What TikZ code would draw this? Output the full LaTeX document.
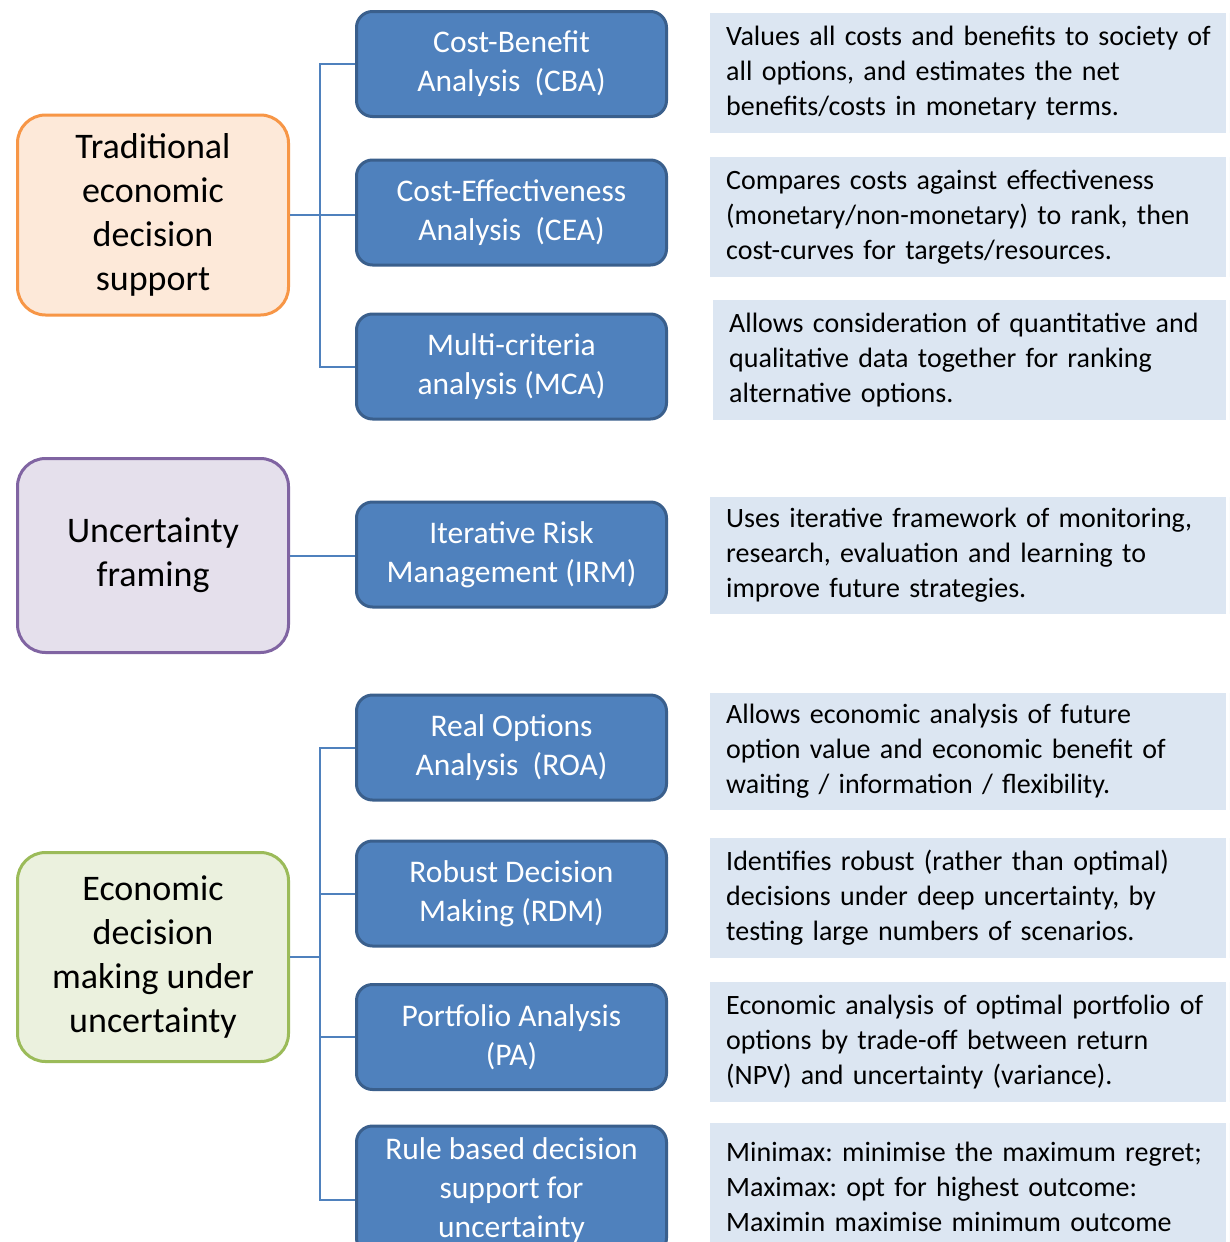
\documentclass[tikz,border=0pt]{standalone}
\usepackage{fontspec}
\setmainfont{Carlito}
\frenchspacing
\definecolor{bluefill}{HTML}{4F81BD}
\definecolor{bluedark}{HTML}{3A5F8C}
\definecolor{descfill}{HTML}{DCE6F2}
\definecolor{linkblue}{HTML}{4F81BD}
\definecolor{orangeb}{HTML}{F79646}
\definecolor{orangef}{HTML}{FDE9D9}
\definecolor{purpleb}{HTML}{8064A2}
\definecolor{purplef}{HTML}{E5E0EC}
\definecolor{greenb}{HTML}{9BBB59}
\definecolor{greenf}{HTML}{EBF1DE}
\begin{document}
\begin{tikzpicture}[x=1pt,y=-1pt,
  catbox/.style={draw, line width=3pt, rounded corners=28pt, minimum width=271pt, align=center,
    font=\fontsize{36}{44}\selectfont, text=black, inner sep=0pt},
  method/.style={draw=bluedark, fill=bluefill, line width=3pt, rounded corners=16pt,
    minimum width=310pt, minimum height=105pt, text=white, align=center,
    font=\fontsize{31.5}{39}\selectfont, inner sep=0pt},
  desc/.style={fill=descfill, anchor=west, text width=500pt, align=left,
    font=\fontsize{28}{35}\selectfont, inner xsep=16pt, inner ysep=0pt},
  link/.style={draw=linkblue, line width=2pt}]
\useasboundingbox (0,0) rectangle (1229,1242);
\clip (0,0) rectangle (1229,1242);
\fill[white] (0,0) rectangle (1229,1242);

% category boxes
\node[catbox, draw=orangeb, fill=orangef, minimum height=200pt] (trad) at (153,215)
  {Traditional\\economic\\decision\\support};
\node[catbox, draw=purpleb, fill=purplef, minimum height=194pt] (unc) at (153,555.5)
  {Uncertainty\\framing};
\node[catbox, draw=greenb, fill=greenf, minimum height=209pt] (econ) at (153,957)
  {Economic\\decision\\making under\\uncertainty};

% method boxes
\node[method] (cba) at (511.5,64) {Cost-Benefit\\Analysis\ \ (CBA)};
\node[method] (cea) at (511.5,212.5) {Cost-Effectiveness\\Analysis\ \ (CEA)};
\node[method] (mca) at (511.5,366.5) {Multi-criteria\\analysis (MCA)};
\node[method] (irm) at (511.5,554.5) {Iterative Risk\\Management (IRM)};
\node[method] (roa) at (511.5,747.5) {Real Options\\Analysis\ \ (ROA)};
\node[method] (rdm) at (511.5,893.5) {Robust Decision\\Making (RDM)};
\node[method] (pa) at (511.5,1037) {Portfolio Analysis\\(PA)};
\node[method, minimum height=128pt] (rule) at (511.5,1190) {Rule based decision\\support for\\uncertainty};

% description boxes
\node[desc, minimum height=120pt] (d1) at (710,73) {Values all costs and benefits to society of\\all options, and estimates the net\\benefits/costs in monetary terms.};
\node[desc, minimum height=120pt] (d2) at (710,217) {Compares costs against effectiveness\\(monetary/non-monetary) to rank, then\\cost-curves for targets/resources.};
\node[desc, minimum height=120pt] (d3) at (713,360) {Allows consideration of quantitative and\\qualitative data together for ranking\\alternative options.};
\node[desc, minimum height=117pt] (d4) at (710,555.5) {Uses iterative framework of monitoring,\\research, evaluation and learning to\\improve future strategies.};
\node[desc, minimum height=117pt] (d5) at (710,751.5) {Allows economic analysis of future\\option value and economic benefit of\\waiting / information / flexibility.};
\node[desc, minimum height=120pt] (d6) at (710,898) {Identifies robust (rather than optimal)\\decisions under deep uncertainty, by\\testing large numbers of scenarios.};
\node[desc, minimum height=120pt] (d7) at (710,1042) {Economic analysis of optimal portfolio of\\options by trade-off between return\\(NPV) and uncertainty (variance).};
\node[desc, minimum height=128pt] (d8) at (710,1187) {Minimax: minimise the maximum regret;\\Maximax: opt for highest outcome:\\Maximin maximise minimum outcome};

% white right margin
\fill[white] (1226,0) rectangle (1229,1242);

% connectors
\coordinate (bus) at (320,0);
\draw[link] (trad.east) -- (trad.east -| cea.west);
\draw[link] (cba.west) -- (cba.west -| bus) -- (mca.west -| bus) -- (mca.west);
\draw[link] (unc.east) -- (unc.east -| irm.west);
\draw[link] (econ.east) -- (econ.east -| bus);
\draw[link] (rdm.west) -- (rdm.west -| bus);
\draw[link] (pa.west) -- (pa.west -| bus);
\coordinate (rulestub) at ([yshift=-10pt]rule.west);
\draw[link] (roa.west) -- (roa.west -| bus) -- (rulestub -| bus) -- (rulestub);
\end{tikzpicture}
\end{document}
